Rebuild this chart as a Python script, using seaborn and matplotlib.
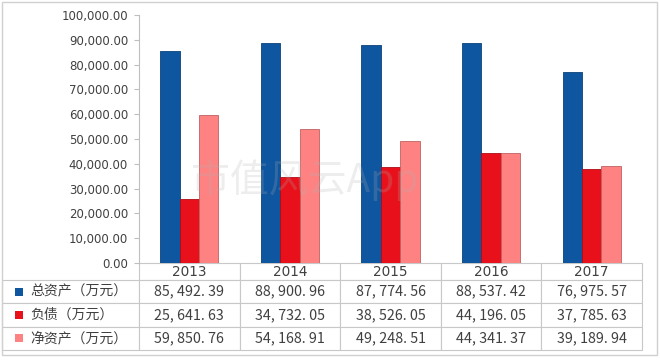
import matplotlib.pyplot as plt
import numpy as np
import pandas as pd
import seaborn as sns
from matplotlib.colors import to_rgb
from matplotlib.patches import Rectangle
from matplotlib.ticker import FuncFormatter

years = ["2013", "2014", "2015", "2016", "2017"]
series = ["总资产（万元）", "负债（万元）", "净资产（万元）"]
total_assets = [85492.39, 88900.96, 87774.56, 88537.42, 76975.57]
liabilities = [25641.63, 34732.05, 38526.05, 44196.05, 37785.63]
net_assets = [59850.76, 54168.91, 49248.51, 44341.37, 39189.94]
colors = ["#0F56A0", "#E8101A", "#FF8282"]

df = pd.DataFrame({
    "year": years * 3,
    "series": np.repeat(series, len(years)),
    "value": total_assets + liabilities + net_assets,
})

sns.set_theme(style="white")
plt.rcParams["font.family"] = ["Noto Sans CJK SC", "DejaVu Sans"]

W, H = 660, 360
fig = plt.figure(figsize=(W / 100, H / 100), dpi=100)
ax_l, ax_r, ax_t, ax_b = 139, 642, 15, 263
ax = fig.add_axes([ax_l / W, 1 - ax_b / H, (ax_r - ax_l) / W, (ax_b - ax_t) / H])

sns.barplot(data=df, x="year", y="value", hue="series", hue_order=series,
            palette=colors, width=0.58, saturation=1, legend=False, ax=ax)
for p in ax.patches:
    fc = to_rgb(p.get_facecolor())
    p.set_edgecolor(tuple(c * 0.75 for c in fc))
    p.set_linewidth(0.6)

ax.set_xlim(-0.5, len(years) - 0.5)
ax.set_ylim(0, 100000)
ax.set_yticks(np.arange(0, 100001, 10000))
ax.yaxis.set_major_formatter(FuncFormatter(lambda v, _: f"{v:,.2f}"))
ax.set_xlabel("")
ax.set_ylabel("")
ax.tick_params(axis="x", bottom=False, labelbottom=False)
ax.tick_params(axis="y", left=True, length=3.6, width=0.8, color="#bfbfbf",
               pad=4.3, labelsize=8.5, labelcolor="#404040")
for lbl in ax.get_yticklabels():
    lbl.set_family("DejaVu Sans")
for s in ["top", "right", "bottom"]:
    ax.spines[s].set_visible(False)
ax.spines["left"].set_color("#bfbfbf")
ax.spines["left"].set_linewidth(0.8)


# data table under the bars
def fmt(v):
    return f"{v:,.2f}".replace(",", ", ").replace(".", ". ")


rows = [total_assets, liabilities, net_assets]
cell_text = [[""] + years] + [[""] + [fmt(v) for v in r] for r in rows]
ax_h = ax_b - ax_t
ax_w = ax_r - ax_l
tab_left, tab_bottom = 2, 350
row_h = [17] + [(tab_bottom - ax_b - 17) / 3] * 3
tbl = ax.table(cellText=cell_text, cellLoc="center",
               colWidths=[ax_l - tab_left] + [ax_w / 5] * 5,
               bbox=[-(ax_l - tab_left) / ax_w, -(tab_bottom - ax_b) / ax_h,
                     (ax_r - tab_left) / ax_w, (tab_bottom - ax_b) / ax_h])
tbl.auto_set_font_size(False)
for (r, c), cell in tbl.get_celld().items():
    cell.set_height(row_h[r])
    cell.set_edgecolor("#c8c8c8")
    cell.set_linewidth(0.8)
    cell.get_text().set_color("#404040")
    cell.get_text().set_fontsize(10.3 if r > 0 else 9.8)
    if r == 0:
        cell.get_text().set_family("DejaVu Sans")
tbl[(0, 0)].visible_edges = ""

for i, (name, col) in enumerate(zip(series, colors)):
    y_center = -(row_h[0] + row_h[1] * (i + 0.5)) / ax_h
    ax.add_patch(Rectangle(((15 - ax_l) / ax_w, y_center - 4 / ax_h), 8 / ax_w, 8 / ax_h,
                           transform=ax.transAxes, clip_on=False,
                           facecolor=col, edgecolor="none"))
    ax.text((30 - ax_l) / ax_w, y_center, name, transform=ax.transAxes,
            ha="left", va="center", fontsize=10, color="#404040")

# watermark
fig.text(305 / W, 1 - 180 / H, "市值风云App", fontsize=28,
         color="#b0b0b0", alpha=0.22, ha="center", va="center")

# outer frame
fig.patches.append(Rectangle((1.5 / W, 5 / H), 655 / W, 353 / H, transform=fig.transFigure,
                             fill=False, edgecolor="#d0d0d0", linewidth=1))

fig.savefig("out.png", dpi=100)
